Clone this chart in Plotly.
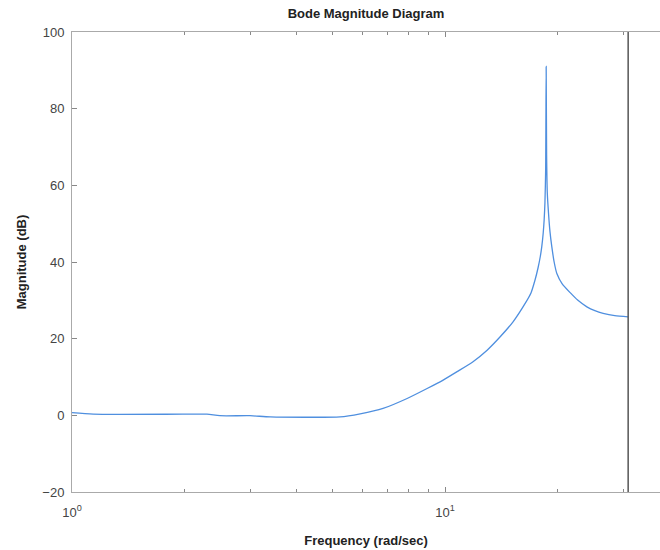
import plotly.graph_objects as go

# Frequency (rad/sec) and magnitude (dB)
freq = [1.0, 1.14, 1.98, 2.30, 2.49, 3.0, 3.40, 5.23, 5.92, 6.82, 7.91, 8.95, 9.88,
        10.77, 11.88, 12.96, 14.05, 15.21, 16.39, 17.0, 17.42, 17.75, 18.0, 18.16,
        18.32, 18.43, 18.52, 18.6, 18.66, 18.71, 18.79, 18.93, 19.1, 19.32, 19.6,
        19.93, 20.6, 21.64, 22.7, 23.99, 25.2, 26.52, 28.5, 30.95]
mag = [0.7, 0.3, 0.3, 0.3, -0.1, -0.1, -0.4, -0.4, 0.4, 1.8, 4.4, 7.0, 9.2,
       11.4, 14.0, 17.0, 20.5, 24.4, 29.2, 32.0, 35.3, 38.5, 41.5, 44.0,
       47.5, 51.0, 55.5, 64.0, 91.0, 68.0, 58.0, 52.8, 48.0, 44.0, 40.0,
       37.0, 34.3, 32.0, 30.0, 28.3, 27.3, 26.6, 26.0, 25.7]

y_ticks = [-20, 0, 20, 40, 60, 80, 100]
x_major = [1, 10]
x_major_text = ["10<sup>0</sup>", "10<sup>1</sup>"]
x_minor = [2, 3, 4, 5, 6, 7, 8, 9, 20, 30]

fig = go.Figure()
fig.add_trace(go.Scatter(x=freq, y=mag, mode="lines",
                         line=dict(color="#4f8fdf", width=1.3, shape="spline", smoothing=0.6),
                         hoverinfo="skip", showlegend=False))
fig.add_trace(go.Scatter(x=[freq[-1], freq[-1]], y=[y_ticks[0], y_ticks[-1]], mode="lines",
                         line=dict(color="#555555", width=1.5),
                         hoverinfo="skip", showlegend=False))

font_family = "Liberation Sans, Arial, sans-serif"
fig.update_layout(
    width=660, height=550,
    margin=dict(l=72, r=0, t=32, b=58),
    paper_bgcolor="white", plot_bgcolor="white",
    font=dict(family=font_family, size=13, color="#333333"),
    title=dict(text="<b>Bode Magnitude Diagram</b>", x=0.5, xanchor="center",
               xref="paper", y=1 - 13 / 550, yanchor="middle",
               font=dict(size=13, color="#222222")),
)
fig.update_xaxes(
    type="log", range=[0, 1.576],
    tickmode="array", tickvals=x_major, ticktext=x_major_text,
    ticks="inside", ticklen=5, tickcolor="#888888",
    minor=dict(tickmode="array", tickvals=x_minor, ticks="inside", ticklen=3,
               tickcolor="#888888", showgrid=False),
    showgrid=False, zeroline=False,
    showline=True, linecolor="#aaaaaa", linewidth=1, mirror="ticks",
    tickfont=dict(size=13, color="#444444"),
    ticklabelstandoff=8,
    title=dict(text="<b>Frequency (rad/sec)</b>", standoff=17,
               font=dict(size=13, color="#222222")),
)
fig.update_yaxes(
    range=[-20, 100], tickmode="array", tickvals=y_ticks,
    ticks="inside", ticklen=5, tickcolor="#888888",
    showgrid=False, zeroline=False,
    showline=True, linecolor="#aaaaaa", linewidth=1, mirror=False,
    tickfont=dict(size=13, color="#444444"),
    ticklabelstandoff=4,
    title=dict(text="<b>Magnitude (dB)</b>", standoff=12,
               font=dict(size=13, color="#222222")),
)

fig.write_html("out.html")
